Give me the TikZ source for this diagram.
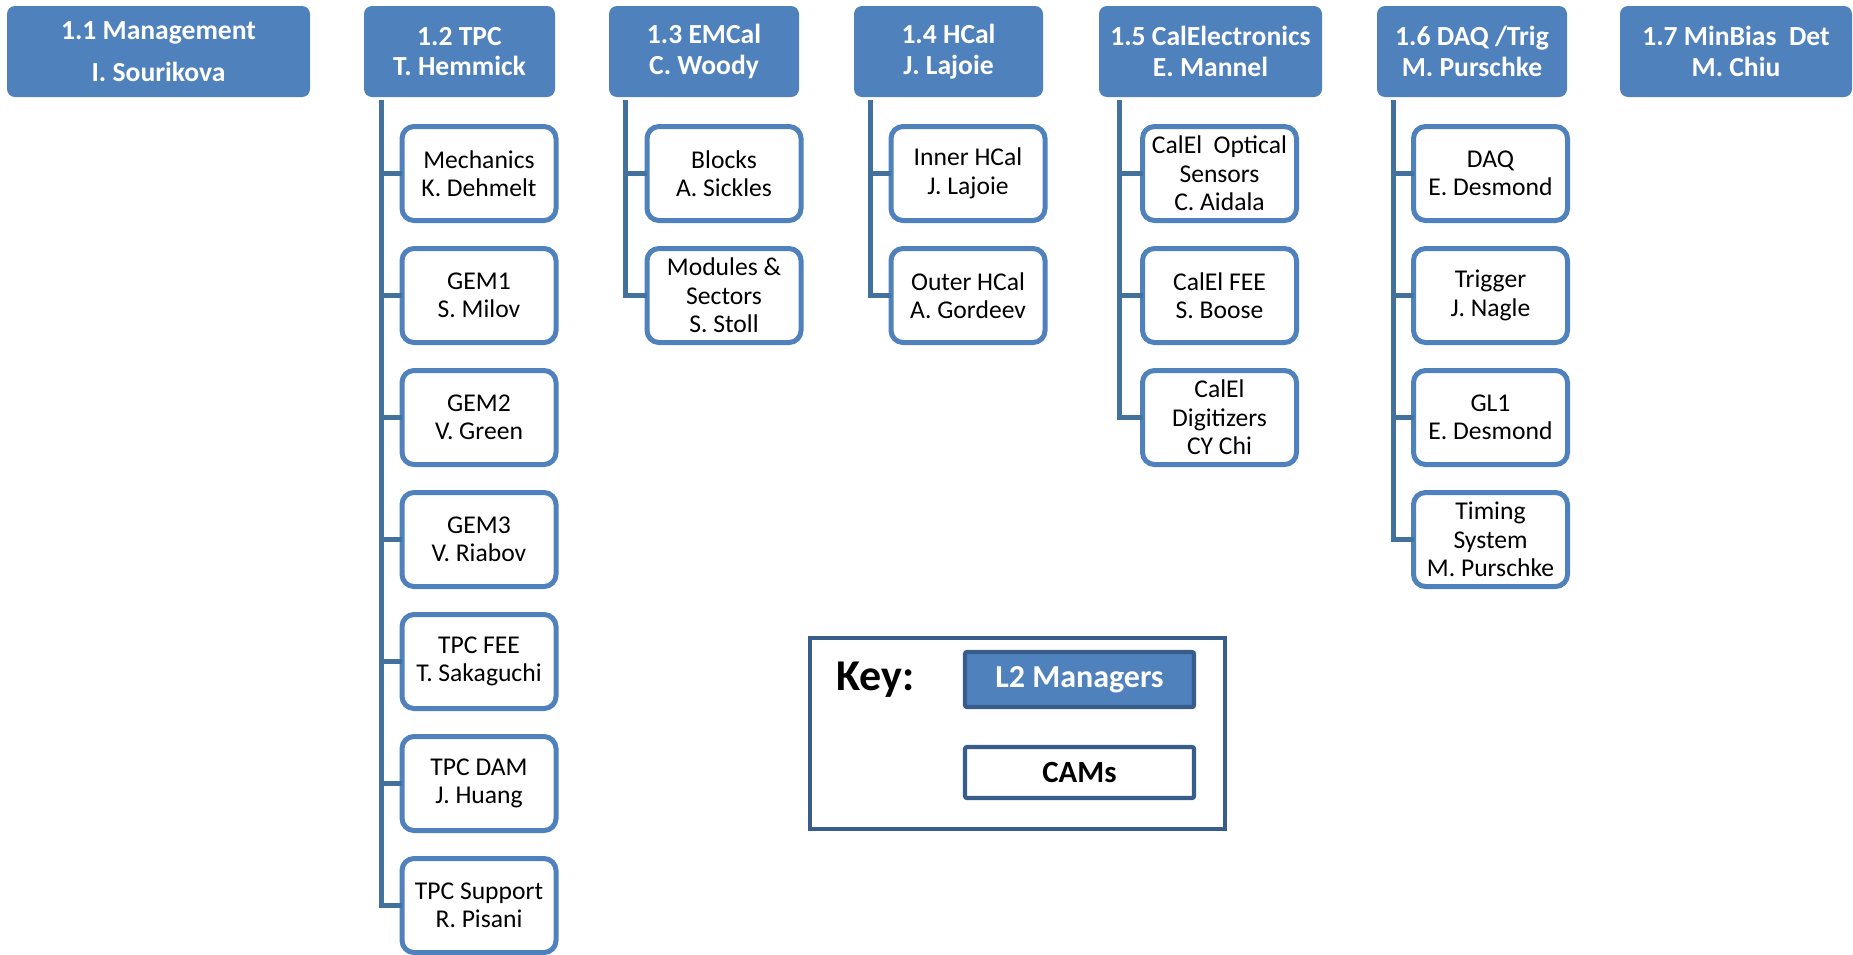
\documentclass[tikz,border=0pt]{standalone}
\usepackage{fontspec}
\setmainfont{Carlito}
\usetikzlibrary{positioning}
\definecolor{wbsblue}{RGB}{79,129,189}
\definecolor{wbsline}{RGB}{65,113,156}
\definecolor{wbsdark}{RGB}{56,93,138}

\begin{document}
\begin{tikzpicture}[l2 node/.style={rectangle,rounded corners=4pt,fill=wbsblue,text=white,align=center,font=\bfseries\fontsize{13.8}{15.4}\selectfont,minimum width=95pt,minimum height=45.5pt,inner sep=0pt,outer sep=0pt},
    cam node/.style={rectangle,rounded corners=6pt,draw=wbsblue,line width=2.5pt,fill=white,align=center,font=\fontsize{12.8}{14.2}\selectfont,minimum width=77pt,minimum height=47pt,inner sep=0pt,outer sep=0pt},
    key node/.style={rectangle,rounded corners=1pt,draw=wbsdark,line width=2.1pt,font=\bfseries\fontsize{16}{18}\selectfont,minimum width=114.5pt,inner sep=0pt,outer sep=0pt},
    trunk/.style={draw=wbsline,line width=2.5pt},
    node distance=14pt]
    \useasboundingbox (0,0) rectangle (926.5pt,-477pt);

    \node[l2 node,minimum width=151.5pt,font=\bfseries\fontsize{13.8}{21}\selectfont,anchor=north west] (m) at (3.5pt,-3pt) {1.1 Management\\I. Sourikova};
    \node[l2 node,minimum width=95.5pt] (tpc) [right = 27pt of m] {1.2 TPC\\T. Hemmick};
    \node[l2 node] (emc) [right = 27pt of tpc] {1.3 EMCal\\C. Woody};
    \node[l2 node,minimum width=94.5pt] (hcal) [right = 27.5pt of emc] {1.4 HCal\\J. Lajoie};
    \node[l2 node,minimum width=111.5pt] (cale) [right = 28pt of hcal] {1.5 CalElectronics\\E. Mannel};
    \node[l2 node] (daq) [right = 27.5pt of cale] {1.6 DAQ /Trig\\M. Purschke};
    \node[l2 node,minimum width=116pt] (mb) [right = 26.5pt of daq] {1.7 MinBias\ \ Det\\M. Chiu};

    \node[cam node] (mech) [below right = 14.75pt and 19pt of tpc.south west] {Mechanics\\K. Dehmelt};
    \node[cam node] (gem1) [below = of mech] {GEM1\\S. Milov};
    \node[cam node] (gem2) [below = of gem1] {GEM2\\V. Green};
    \node[cam node] (gem3) [below = of gem2] {GEM3\\V. Riabov};
    \node[cam node] (tfee) [below = of gem3] {TPC FEE\\T. Sakaguchi};
    \node[cam node] (tdam) [below = of tfee] {TPC DAM\\J. Huang};
    \node[cam node] (tsup) [below = of tdam] {TPC Support\\R. Pisani};

    \node[cam node] (blk) [below right = 14.75pt and 19pt of emc.south west] {Blocks\\A. Sickles};
    \node[cam node] (mods) [below = of blk] {Modules \&\\Sectors\\S. Stoll};

    \node[cam node] (ihc) [below right = 14.75pt and 18.5pt of hcal.south west] {Inner HCal\\J. Lajoie};
    \node[cam node] (ohc) [below = of ihc] {Outer HCal\\A. Gordeev};

    \node[cam node] (opt) [below right = 14.75pt and 21.75pt of cale.south west] {CalEl\ \ Optical\\Sensors\\C. Aidala};
    \node[cam node] (cfee) [below = of opt] {CalEl FEE\\S. Boose};
    \node[cam node] (dig) [below = of cfee] {CalEl\\Digitizers\\CY Chi};

    \node[cam node] (daqc) [below right = 14.75pt and 18.25pt of daq.south west] {DAQ\\E. Desmond};
    \node[cam node] (trig) [below = of daqc] {Trigger\\J. Nagle};
    \node[cam node] (gl1) [below = of trig] {GL1\\E. Desmond};
    \node[cam node] (tim) [below = of gl1] {Timing\\System\\M. Purschke};

    \coordinate[below right = 1.5pt and 8.75pt of tpc.south west] (tpc t);
    \coordinate[below right = 1.5pt and 8pt of emc.south west] (emc t);
    \coordinate[below right = 1.5pt and 8pt of hcal.south west] (hcal t);
    \coordinate[below right = 1.5pt and 10pt of cale.south west] (cale t);
    \coordinate[below right = 1.5pt and 8pt of daq.south west] (daq t);

    \path[trunk]
    (tpc t) |- (mech.west)
    (tpc t) |- (gem1.west)
    (tpc t) |- (gem2.west)
    (tpc t) |- (gem3.west)
    (tpc t) |- (tfee.west)
    (tpc t) |- (tdam.west)
    (tpc t) |- (tsup.west)
    (emc t) |- (blk.west)
    (emc t) |- (mods.west)
    (hcal t) |- (ihc.west)
    (hcal t) |- (ohc.west)
    (cale t) |- (opt.west)
    (cale t) |- (cfee.west)
    (cale t) |- (dig.west)
    (daq t) |- (daqc.west)
    (daq t) |- (trig.west)
    (daq t) |- (gl1.west)
    (daq t) |- (tim.west)
    ;

    \node[draw=wbsdark,line width=2pt,minimum width=207.5pt,minimum height=95.5pt,inner sep=0pt,outer sep=0pt,anchor=north west] (key) at (405pt,-319pt) {};
    \node[key node,fill=wbsblue,text=white,minimum height=27.5pt] (l2) [below right = 7pt and 77.5pt of key.north west] {L2 Managers};
    \node[key node,fill=white,minimum height=25.5pt,font=\bfseries\fontsize{15.4}{17}\selectfont] (cams) [below = 20pt of l2] {CAMs};
    \node[font=\bfseries\fontsize{22}{25}\selectfont,inner sep=0pt] (keylbl) [left = 25pt of l2] {Key:};
\end{tikzpicture}
\end{document}
